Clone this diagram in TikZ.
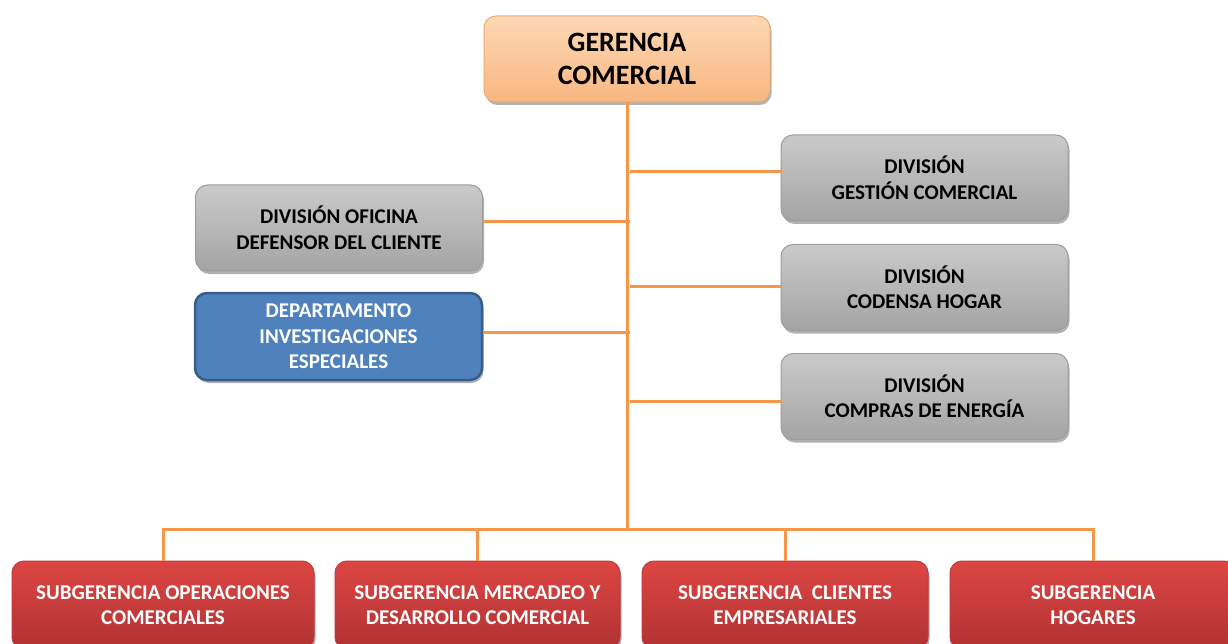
\documentclass[tikz,border=0pt]{standalone}
\usepackage{fontspec}
\setmainfont{Carlito}
\usetikzlibrary{shadows}

\definecolor{linkorange}{HTML}{F79646}
\definecolor{peachtop}{HTML}{FDD8B4}
\definecolor{peachbot}{HTML}{F8B781}
\definecolor{peachdraw}{HTML}{F0AA70}
\definecolor{greytop}{HTML}{CACACA}
\definecolor{greybot}{HTML}{A4A4A4}
\definecolor{greydraw}{HTML}{9C9C9C}
\definecolor{bluefill}{HTML}{4F81BD}
\definecolor{bluedraw}{HTML}{385D8A}
\definecolor{redtop}{HTML}{DC4644}
\definecolor{redbot}{HTML}{B03232}
\definecolor{reddraw}{HTML}{C23A3A}

\tikzset{
  box/.style={rounded corners=12pt, inner sep=0pt, align=center,
    font=\bfseries\fontsize{21}{25.5}\selectfont,
    drop shadow={shadow xshift=1.5pt, shadow yshift=-3pt, opacity=0.3, fill=black}},
  headbox/.style={box, top color=peachtop, bottom color=peachbot, draw=peachdraw, line width=1pt,
    minimum width=286pt, minimum height=86pt,
    font=\bfseries\fontsize{28}{33}\selectfont},
  greybox/.style={box, top color=greytop, bottom color=greybot, draw=greydraw, line width=1pt,
    minimum width=287pt, minimum height=86pt},
  bluebox/.style={box, fill=bluefill, draw=bluedraw, line width=2.5pt, text=white,
    minimum width=287pt, minimum height=87pt},
  redbox/.style={box, top color=redtop, bottom color=redbot, draw=reddraw, line width=1pt, text=white,
    minimum height=88pt, font=\bfseries\fontsize{21}{25}\selectfont},
  link/.style={draw=linkorange, line width=3pt}
}

\begin{document}
\begin{tikzpicture}[x=1pt, y=-1pt]
  \useasboundingbox (0,0) rectangle (1228,644);
  \clip (0,0) rectangle (1228,644);

  % head of the chart
  \node[headbox] (head) at (627,59) {GERENCIA\\COMERCIAL};

  % left-hand units
  \node[greybox] (defensor) at (339,228) {DIVISIÓN OFICINA\\DEFENSOR DEL CLIENTE};
  \node[bluebox] (investig) at (338.5,336.5) {DEPARTAMENTO\\INVESTIGACIONES\\ESPECIALES};

  % right-hand divisions
  \node[greybox] (gestion) at (924.5,178) {DIVISIÓN\\GESTIÓN COMERCIAL};
  \node[greybox] (codensa) at (924.5,287.5) {DIVISIÓN\\CODENSA HOGAR};
  \node[greybox] (compras) at (924.5,396.5) {DIVISIÓN\\COMPRAS DE ENERGÍA};

  % sub-managements along the bottom
  \node[redbox, minimum width=302pt] (operac) at (163,605) {SUBGERENCIA OPERACIONES\\COMERCIALES};
  \node[redbox, minimum width=285pt] (mercadeo) at (477.5,605) {SUBGERENCIA MERCADEO Y\\DESARROLLO COMERCIAL};
  \node[redbox, minimum width=286pt] (clientes) at (785,605) {SUBGERENCIA\ \ CLIENTES\\EMPRESARIALES};
  \node[redbox, minimum width=286pt] (hogares) at (1093,605) {SUBGERENCIA\\HOGARES};

  % trunk and bus
  \coordinate (bus) at (630,529);
  \draw[link] (head.south) -- (head.south |- bus);

  % side branches
  \draw[link] ([yshift=6pt]defensor.east) -- ([yshift=6pt]defensor.east -| bus);
  \draw[link] ([yshift=4.5pt]investig.east) -- ([yshift=4.5pt]investig.east -| bus);
  \draw[link] ([yshift=6pt]gestion.west) -- ([yshift=6pt]gestion.west -| bus);
  \draw[link] ([yshift=1.5pt]codensa.west) -- ([yshift=1.5pt]codensa.west -| bus);
  \draw[link] ([yshift=-5pt]compras.west) -- ([yshift=-5pt]compras.west -| bus);

  % bottom bus with drops
  \draw[link, line join=miter] (operac.north) -- (operac.north |- bus) -- (hogares.north |- bus) -- (hogares.north);
  \draw[link] (mercadeo.north) -- (mercadeo.north |- bus);
  \draw[link] (clientes.north) -- (clientes.north |- bus);
\end{tikzpicture}
\end{document}
